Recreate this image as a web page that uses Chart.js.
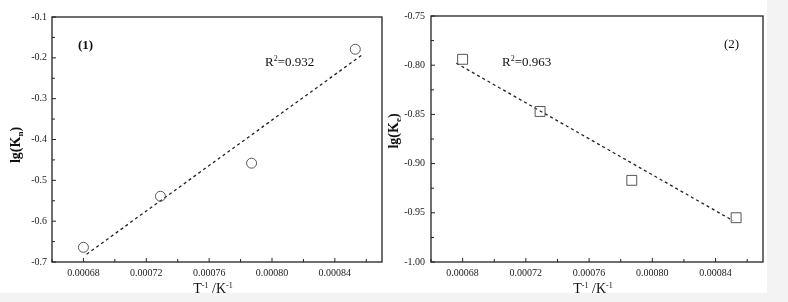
<!DOCTYPE html>
<html>
<head>
<meta charset="utf-8">
<script src="https://cdn.jsdelivr.net/npm/chart.js@4"></script>
<style>
  body { margin: 0; background: #f3f3f3; }
  #paper { position: absolute; left: 0; top: 0; width: 767px; height: 293px; background: #fff; }
  .box { position: absolute; top: 0; height: 302px; }
  #box1 { left: 0; width: 390px; }
  #box2 { left: 384px; width: 404px; }
</style>
</head>
<body>
<div id="paper"></div>
<div class="box" id="box1"><canvas id="chart1"></canvas></div>
<div class="box" id="box2"><canvas id="chart2"></canvas></div>
<script>
// values
const invT = [0.00068, 0.000729, 0.000787, 0.000853];
const lgKn = [-0.664, -0.539, -0.458, -0.179];
const lgKe = [-0.794, -0.847, -0.917, -0.955];

// ends of the dashed fit lines
const fit1X = [0.000682, 0.000858];
const fit1Y = [-0.681, -0.191];
const fit2X = [0.000676, 0.000851];
const fit2Y = [-0.798, -0.958];

const xTicks = [0.00068, 0.00072, 0.00076, 0.00080, 0.00084];
const yTicks1 = [-0.7, -0.6, -0.5, -0.4, -0.3, -0.2, -0.1];
const yTicks2 = [-1.00, -0.95, -0.90, -0.85, -0.80, -0.75];

const SERIF = "'Liberation Serif', 'Times New Roman', serif";

function pts(xs, ys) {
  return xs.map((x, i) => ({x: x, y: ys[i]}));
}

// frame, inward ticks and the extra texts
const decor = {
  id: 'decor',
  afterDraw(chart, args, o) {
    const ctx = chart.ctx;
    const a = chart.chartArea;
    const xs = chart.scales.x, ys = chart.scales.y;
    ctx.save();
    ctx.strokeStyle = '#222';
    ctx.lineWidth = 1.3;
    ctx.strokeRect(a.left, a.top, a.right - a.left, a.bottom - a.top);

    ctx.lineWidth = 1;
    const xt = xs.ticks.map(t => t.value);
    const yt = ys.ticks.map(t => t.value);
    const xStep = xt[1] - xt[0], yStep = yt[1] - yt[0];
    for (let v = xt[0] - xStep / 2; v <= xs.max; v += xStep / 2) {
      const px = xs.getPixelForValue(v);
      if (px < a.left || px > a.right) continue;
      const major = xt.some(t => Math.abs(t - v) < xStep / 10);
      ctx.beginPath();
      ctx.moveTo(px, a.bottom);
      ctx.lineTo(px, a.bottom - (major ? 4 : 3));
      ctx.stroke();
    }
    for (let v = yt[0]; v <= ys.max + 1e-9; v += yStep / 2) {
      const py = ys.getPixelForValue(v);
      const major = yt.some(t => Math.abs(t - v) < yStep / 10);
      ctx.beginPath();
      ctx.moveTo(a.left, py);
      ctx.lineTo(a.left + (major ? 4 : 3), py);
      ctx.stroke();
    }

    ctx.fillStyle = '#111';
    ctx.textBaseline = 'alphabetic';
    // panel tag
    ctx.font = (o.tagBold ? 'bold ' : '') + '13px ' + SERIF;
    ctx.fillText(o.tag, a.left + o.tagX, a.top + o.tagY);

    // R^2 label
    let x = a.left + o.rX, y = a.top + o.rY;
    ctx.font = '13px ' + SERIF;
    ctx.fillText('R', x, y);
    x += ctx.measureText('R').width;
    ctx.font = '8px ' + SERIF;
    ctx.fillText('2', x, y - 5);
    x += ctx.measureText('2').width;
    ctx.font = '13px ' + SERIF;
    ctx.fillText('=' + o.r2, x, y);

    // x title: T^-1 /K^-1
    const parts = [['T', 0], ['-1', 1], [' /K', 0], ['-1', 1]];
    let w = 0;
    parts.forEach(p => { ctx.font = (p[1] ? '8px ' : '14px ') + SERIF; w += ctx.measureText(p[0]).width; });
    x = (a.left + a.right) / 2 + o.xtOff - w / 2;
    parts.forEach(p => {
      ctx.font = (p[1] ? '8px ' : '14px ') + SERIF;
      ctx.fillText(p[0], x, 293 - (p[1] ? 5 : 0));
      x += ctx.measureText(p[0]).width;
    });

    // y title: lg(K_sub)
    ctx.translate(o.ytX, o.ytY);
    ctx.rotate(-Math.PI / 2);
    const yp = [['lg(K', 0], [o.sub, 1], [')', 0]];
    w = 0;
    yp.forEach(p => { ctx.font = 'bold ' + (p[1] ? '9px ' : '14px ') + SERIF; w += ctx.measureText(p[0]).width; });
    x = -w / 2;
    yp.forEach(p => {
      ctx.font = 'bold ' + (p[1] ? '9px ' : '14px ') + SERIF;
      ctx.fillText(p[0], x, 5 + (p[1] ? 3 : 0));
      x += ctx.measureText(p[0]).width;
    });
    ctx.restore();
  }
};

function makeChart(id, yVals, fitX, fitY, yTicks, yMin, yMax, style, lay, deco) {
  return new Chart(document.getElementById(id), {
    type: 'scatter',
    data: {
      datasets: [{
        data: pts(invT, yVals),
        pointStyle: style,
        pointRadius: style === 'rect' ? 7 : 5,
        pointBorderColor: '#555',
        pointBorderWidth: 1,
        pointBackgroundColor: 'rgba(0,0,0,0)',
        showLine: false
      }, {
        data: pts(fitX, fitY),
        showLine: true,
        borderColor: '#222',
        borderWidth: 1.3,
        borderDash: [3, 3],
        pointRadius: 0,
        fill: false
      }]
    },
    options: {
      responsive: true,
      maintainAspectRatio: false,
      animation: false,
      events: [],
      layout: { padding: { left: 0, right: lay.right, top: lay.top, bottom: 0 } },
      plugins: {
        legend: { display: false },
        tooltip: { enabled: false },
        decor: deco
      },
      scales: {
        x: {
          type: 'linear',
          min: 0.00066,
          max: 0.00087,
          grid: { display: false, drawTicks: false },
          border: { display: false },
          afterBuildTicks: s => { s.ticks = xTicks.map(v => ({value: v})); },
          afterFit: s => { s.height = 40; },
          ticks: {
            padding: 5,
            color: '#222',
            font: { family: SERIF, size: 10 },
            maxRotation: 0,
            callback: v => v.toFixed(5)
          }
        },
        y: {
          min: yMin,
          max: yMax,
          grid: { display: false, drawTicks: false },
          border: { display: false },
          afterBuildTicks: s => { s.ticks = yTicks.map(v => ({value: v})); },
          afterFit: s => { s.width = lay.left; },
          ticks: {
            padding: lay.tickPad,
            color: '#222',
            font: { family: SERIF, size: 10 },
            callback: v => v.toFixed(lay.dec)
          }
        }
      }
    },
    plugins: [decor]
  });
}

makeChart('chart1', lgKn, fit1X, fit1Y, yTicks1, -0.7, -0.1, 'circle',
  { left: 52, right: 8, top: 17, tickPad: 5, dec: 1 },
  { tag: '(1)', tagBold: true, tagX: 26, tagY: 32, rX: 213, rY: 49, r2: '0.932',
    xtOff: -4, ytX: 15, ytY: 145, sub: 'n' });

makeChart('chart2', lgKe, fit2X, fit2Y, yTicks2, -1.0, -0.75, 'rect',
  { left: 47, right: 25, top: 16, tickPad: 6, dec: 2 },
  { tag: '(2)', tagBold: false, tagX: 293, tagY: 32, rX: 71, rY: 50, r2: '0.963',
    xtOff: -4, ytX: 9, ytY: 131, sub: 'e' });
</script>
</body>
</html>
